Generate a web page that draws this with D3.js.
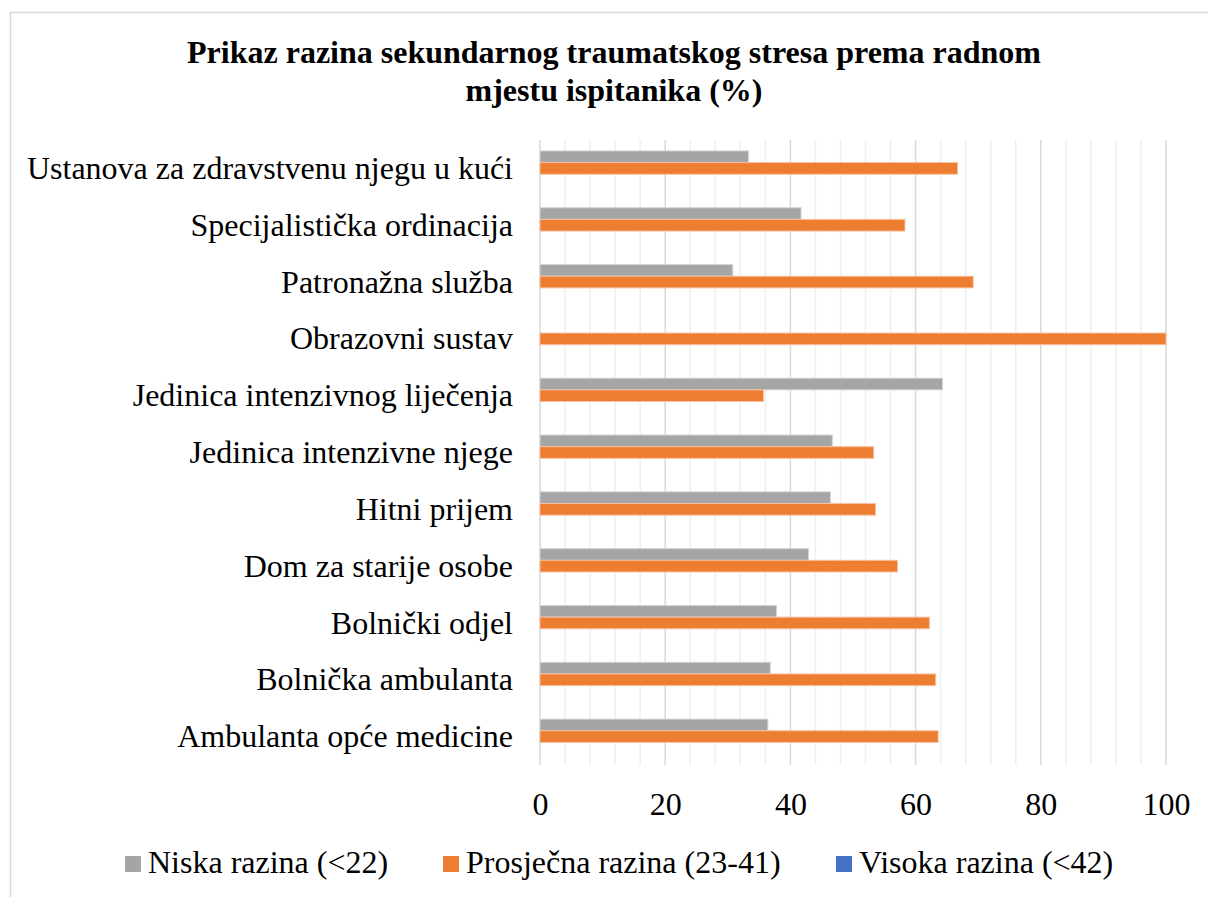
<!DOCTYPE html>
<html>
<head>
<meta charset="utf-8">
<script src="https://cdn.jsdelivr.net/npm/d3@7"></script>
<style>
  body { margin: 0; background: #fff; }
  svg { display: block; font-family: "Liberation Serif", "Times New Roman", serif; }
</style>
</head>
<body>
<script>
// categories, top to bottom as drawn
var categories = [
  "Ustanova za zdravstvenu njegu u kući",
  "Specijalistička ordinacija",
  "Patronažna služba",
  "Obrazovni sustav",
  "Jedinica intenzivnog liječenja",
  "Jedinica intenzivne njege",
  "Hitni prijem",
  "Dom za starije osobe",
  "Bolnički odjel",
  "Bolnička ambulanta",
  "Ambulanta opće medicine"
];
var niska     = [33.3, 41.7, 30.8, 0, 64.3, 46.7, 46.4, 42.9, 37.8, 36.8, 36.4];
var prosjecna = [66.7, 58.3, 69.2, 100, 35.7, 53.3, 53.6, 57.1, 62.2, 63.2, 63.6];
var visoka    = [0, 0, 0, 0, 0, 0, 0, 0, 0, 0, 0];

var seriesNames = ["Niska razina (<22)", "Prosječna razina (23-41)", "Visoka razina (<42)"];
var seriesColors = ["#a5a5a5", "#ed7d31", "#4472c4"];
var seriesStroke = ["#d6d6d6", "#f6c0a0", "#9db3e0"];
var xTicks = [0, 20, 40, 60, 80, 100];

var width = 1208, height = 897;

var svg = d3.select("body").append("svg")
    .attr("width", width)
    .attr("height", height);

// chart border
svg.append("rect")
    .attr("x", 10.5).attr("y", 12.5)
    .attr("width", 1220).attr("height", 900)
    .attr("fill", "#fff")
    .attr("stroke", "#d9d9d9")
    .attr("stroke-width", 1.5);

// title
var title = svg.append("text")
    .attr("text-anchor", "middle")
    .attr("font-weight", "bold")
    .attr("font-size", 32)
    .attr("fill", "#000");
title.append("tspan").attr("x", 614).attr("y", 63)
    .text("Prikaz razina sekundarnog traumatskog stresa prema radnom");
title.append("tspan").attr("x", 614).attr("y", 101)
    .text("mjestu ispitanika (%)");

var x = d3.scaleLinear().domain([0, 100]).range([540, 1166]);

var y = d3.scaleBand()
    .domain(categories)
    .range([140, 765])
    .paddingInner(0.384)
    .paddingOuter(0.192);

var ySub = d3.scaleBand()
    .domain([0, 1, 2])
    .range([0, y.bandwidth()]);

// minor gridlines every 4
var minor = d3.range(0, 101, 4).filter(function(d) { return d % 20 != 0; });
svg.append("g").selectAll("line")
    .data(minor)
    .enter().append("line")
    .attr("x1", function(d) { return x(d); })
    .attr("x2", function(d) { return x(d); })
    .attr("y1", 140).attr("y2", 765)
    .attr("stroke", "#efefef")
    .attr("stroke-width", 1.5);

// major gridlines
svg.append("g").selectAll("line")
    .data(xTicks)
    .enter().append("line")
    .attr("x1", function(d) { return x(d); })
    .attr("x2", function(d) { return x(d); })
    .attr("y1", 140).attr("y2", 765)
    .attr("stroke", "#d9d9d9")
    .attr("stroke-width", 1.5);

// bars (one group per series, zero values get no rect)
var allSeries = [niska, prosjecna, visoka];
allSeries.forEach(function(vals, s) {
  var rows = vals.map(function(v, i) { return { cat: categories[i], value: v }; })
                 .filter(function(d) { return d.value > 0; });
  svg.append("g").selectAll("rect")
      .data(rows)
      .enter().append("rect")
      .attr("x", x(0))
      .attr("y", function(d) { return y(d.cat) + ySub(s); })
      .attr("width", function(d) { return x(d.value) - x(0); })
      .attr("height", ySub.bandwidth())
      .attr("fill", seriesColors[s])
      .attr("stroke", seriesStroke[s])
      .attr("stroke-width", 1);
});

// category labels
svg.append("g").selectAll("text")
    .data(categories)
    .enter().append("text")
    .attr("x", 513)
    .attr("y", function(d) { return y(d) + y.bandwidth() / 2; })
    .attr("dy", "0.33em")
    .attr("text-anchor", "end")
    .attr("font-size", 32)
    .attr("fill", "#000")
    .text(function(d) { return d; });

// x axis tick labels
var xAxis = d3.axisBottom(x).tickValues(xTicks).tickSize(0).tickPadding(0);
var gx = svg.append("g")
    .attr("transform", "translate(0,815)")
    .call(xAxis);
gx.attr("font-family", null).attr("font-size", null);
gx.select(".domain").remove();
gx.selectAll("text")
    .attr("dy", 0)
    .attr("y", 0)
    .attr("font-size", 32)
    .attr("fill", "#000");

// legend
var legendX = [125, 443, 836];
var lg = svg.append("g").selectAll("g")
    .data(seriesNames)
    .enter().append("g")
    .attr("transform", function(d, i) { return "translate(" + legendX[i] + ",0)"; });
lg.append("rect")
    .attr("x", 0).attr("y", 856)
    .attr("width", 16).attr("height", 16)
    .attr("fill", function(d, i) { return seriesColors[i]; });
lg.append("text")
    .attr("x", 23).attr("y", 873)
    .attr("font-size", 32)
    .attr("fill", "#000")
    .text(function(d) { return d; });
</script>
</body>
</html>
